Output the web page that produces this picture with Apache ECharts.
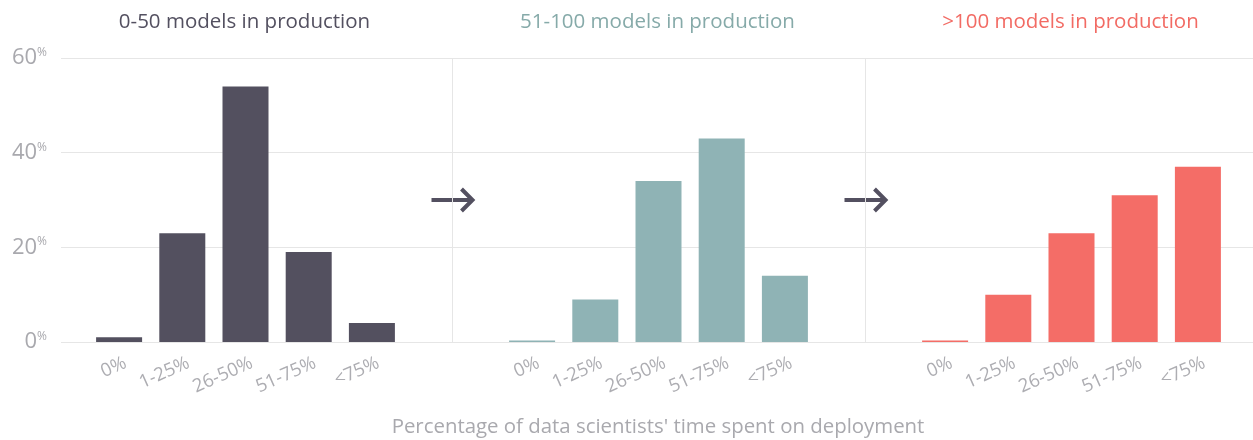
<!DOCTYPE html>
<html><head><meta charset="utf-8">
<script src="https://cdn.jsdelivr.net/npm/echarts@6/dist/echarts.min.js"></script>
<style>html,body{margin:0;padding:0;background:#fff}#c{width:1253px;height:440px}</style>
</head><body><div id="c"></div>
<script>
const categories = ['0%', '1-25%', '26-50%', '51-75%', '<75%'];
const panelTitles = ['0-50 models in production', '51-100 models in production', '>100 models in production'];
const values0to50 = [1, 23, 54, 19, 4];
const values51to100 = [0.3, 9, 34, 43, 14];
const valuesOver100 = [0.3, 10, 23, 31, 37];
const yTicks = [0, 20, 40, 60];
const axisTitle = "Percentage of data scientists' time spent on deployment";

const colors = ['#53505f', '#8fb3b5', '#f46d67'];
const titleColors = ['#535060', '#86aaa9', '#f26b64'];
const FONT = 'Open Sans';
const panelValues = [values0to50, values51to100, valuesOver100];

const chart = echarts.init(document.getElementById('c'));
const TOP = 58, BOTTOM = 98, STEP = 413, FIRST = 87.5, PW = 316;

const grids = [{left: 61, right: 0, top: TOP, bottom: BOTTOM}];
const xAxes = [{gridIndex: 0, type: 'value', min: 0, max: 1, show: false}];
const yAxes = [{
  gridIndex: 0, type: 'value', min: yTicks[0], max: yTicks[yTicks.length - 1], interval: 20,
  axisLine: {show: false}, axisTick: {show: false},
  splitLine: {lineStyle: {color: '#e6e6e6', width: 1}},
  axisLabel: {
    margin: 14,
    formatter: v => '{a|' + v + '}{b|%}',
    rich: {
      a: {fontFamily: FONT, fontSize: 22, color: '#a9a9ae'},
      b: {fontFamily: FONT, fontSize: 12, color: '#a9a9ae', verticalAlign: 'top', padding: [0, 0, 11, 0]}
    }
  }
}];
const series = [];
const titles = [];
for (let i = 0; i < 3; i++) {
  grids.push({left: FIRST + STEP * i, width: PW, top: TOP, bottom: BOTTOM});
  xAxes.push({
    gridIndex: i + 1, type: 'category', data: categories,
    axisLine: {show: false}, axisTick: {show: false},
    axisLabel: {rotate: 24, margin: 23, padding: [0, -7, 0, 0], fontFamily: FONT, fontSize: 18.5, color: '#adadb2', interval: 0}
  });
  yAxes.push({gridIndex: i + 1, type: 'value', min: 0, max: 60, show: false});
  series.push({
    type: 'bar', xAxisIndex: i + 1, yAxisIndex: i + 1, data: panelValues[i],
    barWidth: 46, itemStyle: {color: colors[i]}, silent: true
  });
  titles.push({
    text: panelTitles[i], left: FIRST + STEP * i + PW / 2 - 1, top: 12, padding: 0, textAlign: 'center',
    textStyle: {fontFamily: FONT, fontSize: 20.5, fontWeight: 'normal', color: titleColors[i]}
  });
}
titles.push({
  text: axisTitle, left: 658, top: 417, padding: 0, textAlign: 'center',
  textStyle: {fontFamily: FONT, fontSize: 20.4, fontWeight: 'normal', color: '#a9a9ae'}
});

const graphics = [];
for (let i = 1; i < 3; i++) {
  const x = FIRST + STEP * i - 48;
  graphics.push({type: 'line', shape: {x1: x, y1: TOP, x2: x, y2: 440 - BOTTOM}, style: {stroke: '#e6e6e6', lineWidth: 1}, z: 1});
  graphics.push({type: 'group', x: x, y: 200, z: 10, children: [
    {type: 'line', shape: {x1: -21, y1: 0, x2: 20, y2: 0}, style: {stroke: '#535060', lineWidth: 4}},
    {type: 'polyline', shape: {points: [[9, -11], [20, 0], [9, 11]]}, style: {stroke: '#535060', lineWidth: 4, fill: null}}
  ]});
}

chart.setOption({
  animation: false,
  title: titles,
  grid: grids, xAxis: xAxes, yAxis: yAxes, series: series,
  graphic: graphics
});
</script></body></html>
